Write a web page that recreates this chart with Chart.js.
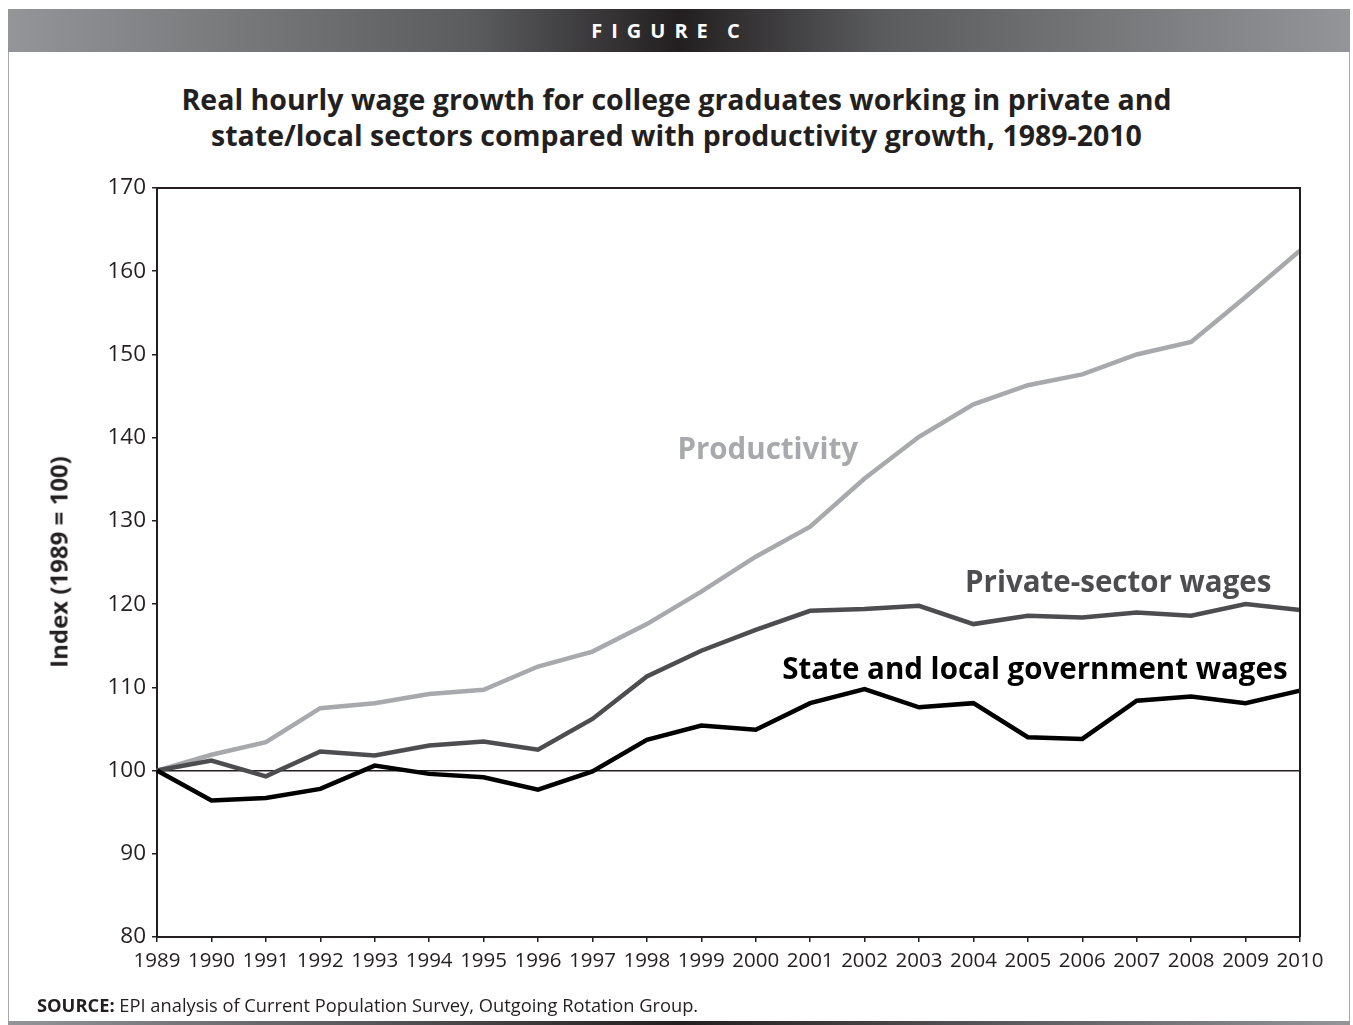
<!DOCTYPE html>
<html>
<head>
<meta charset="utf-8">
<script src="https://cdn.jsdelivr.net/npm/chart.js@4.4.1/dist/chart.umd.min.js"></script>
<style>
  html, body { margin: 0; padding: 0; background: #fff; }
  body { width: 1353px; height: 1025px; position: relative; overflow: hidden; font-family: "Open Sans", sans-serif; }
  #banner { position: absolute; left: 8px; top: 9px; width: 1342px; height: 43px;
    background: linear-gradient(to right, #939598 0%, #5a5b5d 35%, #231f20 50%, #5a5b5d 65%, #939598 100%);
    color: #fff; font-weight: 700; font-size: 20px; letter-spacing: 9px; word-spacing: -4px; text-align: center; line-height: 43px;
    box-sizing: border-box; padding-right: 18px; }
  #frameL, #frameR { position: absolute; top: 52px; height: 969px; width: 1px; background: #a7a9ac; }
  #frameL { left: 8px; } #frameR { left: 1349px; }
  #bottomBar { position: absolute; left: 8px; top: 1021px; width: 1342px; height: 4px;
    background: linear-gradient(to right, #939598 0%, #231f20 50%, #939598 100%); }
  #title { position: absolute; left: 0; width: 1353px; top: 81px; text-align: center; font-weight: 700;
    font-size: 28.5px; line-height: 36px; color: #231f20; }
  #ylab { position: absolute; left: 58px; top: 562px; transform: translate(-50%, -50%) rotate(-90deg);
    font-weight: 700; font-size: 24px; white-space: nowrap; color: #231f20; }
  #source { position: absolute; left: 37px; top: 992px; font-size: 18.3px; color: #231f20; white-space: nowrap; }
  #source b { font-weight: 700; }
  canvas { position: absolute; left: 0; top: 0; }
</style>
</head>
<body>
<div id="banner">FIGURE C</div>
<div id="frameL"></div><div id="frameR"></div>
<div id="bottomBar"></div>
<div id="title">Real hourly wage growth for college graduates working in private and<br>state/local sectors compared with productivity growth, 1989-2010</div>
<canvas id="c" width="1353" height="1025"></canvas>
<div id="ylab">Index (1989 = 100)</div>
<div id="source"><b>SOURCE:</b> EPI analysis of Current Population Survey, Outgoing Rotation Group.</div>
<script>
const years = ["1989","1990","1991","1992","1993","1994","1995","1996","1997","1998","1999","2000","2001","2002","2003","2004","2005","2006","2007","2008","2009","2010"];
const productivity = [100, 101.9, 103.4, 107.5, 108.1, 109.2, 109.7, 112.5, 114.3, 117.6, 121.5, 125.7, 129.3, 135.1, 140.1, 144.0, 146.3, 147.6, 150.0, 151.5, 156.9, 162.5];
const privateWages = [100, 101.2, 99.3, 102.3, 101.8, 103.0, 103.5, 102.5, 106.2, 111.3, 114.4, 116.9, 119.2, 119.4, 119.8, 117.6, 118.6, 118.4, 119.0, 118.6, 120.0, 119.3];
const stateLocalWages = [100, 96.4, 96.7, 97.8, 100.6, 99.6, 99.2, 97.7, 99.9, 103.7, 105.4, 104.9, 108.1, 109.8, 107.6, 108.1, 104.0, 103.8, 108.4, 108.9, 108.1, 109.6];
const yTicks = [80, 90, 100, 110, 120, 130, 140, 150, 160, 170];

const seriesLabels = [
  { text: "Productivity", color: "#a7a9ac", xIndex: 11.22, yValue: 138.4 },
  { text: "Private-sector wages", color: "#4d4d4f", xIndex: 17.66, yValue: 122.5 },
  { text: "State and local government wages", color: "#000000", xIndex: 16.13, yValue: 112.0 }
];

const frameAndLabels = {
  id: 'frameAndLabels',
  afterDatasetsDraw(chart) {
    const { ctx, chartArea: a, scales } = chart;
    ctx.save();
    ctx.strokeStyle = '#231f20';
    ctx.lineWidth = 2;
    ctx.beginPath();
    ctx.moveTo(a.left, a.top); ctx.lineTo(a.right, a.top); ctx.lineTo(a.right, a.bottom);
    ctx.stroke();
    ctx.font = '700 29.5px "Open Sans"';
    ctx.textAlign = 'center';
    ctx.textBaseline = 'middle';
    for (const l of seriesLabels) {
      ctx.fillStyle = l.color;
      ctx.fillText(l.text, scales.x.getPixelForValue(l.xIndex), scales.y.getPixelForValue(l.yValue));
    }
    ctx.restore();
  }
};

new Chart(document.getElementById('c'), {
  type: 'line',
  data: {
    labels: years,
    datasets: [
      { label: 'State and local government wages', data: stateLocalWages, borderColor: '#000000', borderWidth: 4.5 },
      { label: 'Private-sector wages', data: privateWages, borderColor: '#4d4d4f', borderWidth: 4.5 },
      { label: 'Productivity', data: productivity, borderColor: '#a7a9ac', borderWidth: 4.5 }
    ]
  },
  options: {
    responsive: false,
    animation: false,
    devicePixelRatio: 1,
    elements: { point: { radius: 0 }, line: { tension: 0, borderJoinStyle: 'miter', borderCapStyle: 'butt' } },
    layout: { padding: { left: 0, top: 188, right: 53, bottom: 58 } },
    plugins: { legend: { display: false }, tooltip: { enabled: false }, title: { display: false } },
    scales: {
      x: {
        type: 'category',
        offset: false,
        grid: { drawOnChartArea: false, tickLength: 5, tickColor: '#231f20', lineWidth: 1.5 },
        border: { color: '#231f20', width: 2 },
        ticks: { color: '#231f20', font: { family: 'Open Sans', size: 20.5 }, padding: 7, maxRotation: 0, autoSkip: false },
        afterFit(s) { s.height = 30; }
      },
      y: {
        min: 80, max: 170,
        afterBuildTicks(s) { s.ticks = yTicks.map(v => ({ value: v })); },
        grid: {
          color: ctx => (ctx.tick && ctx.tick.value === 100) ? '#231f20' : 'rgba(0,0,0,0)',
          tickColor: '#231f20', tickLength: 5, lineWidth: 1.5
        },
        border: { color: '#231f20', width: 2 },
        ticks: { color: '#231f20', font: { family: 'Open Sans', size: 22.5 }, padding: 6 },
        afterFit(s) { s.width = 157; }
      }
    }
  },
  plugins: [frameAndLabels]
});
</script>
</body>
</html>
